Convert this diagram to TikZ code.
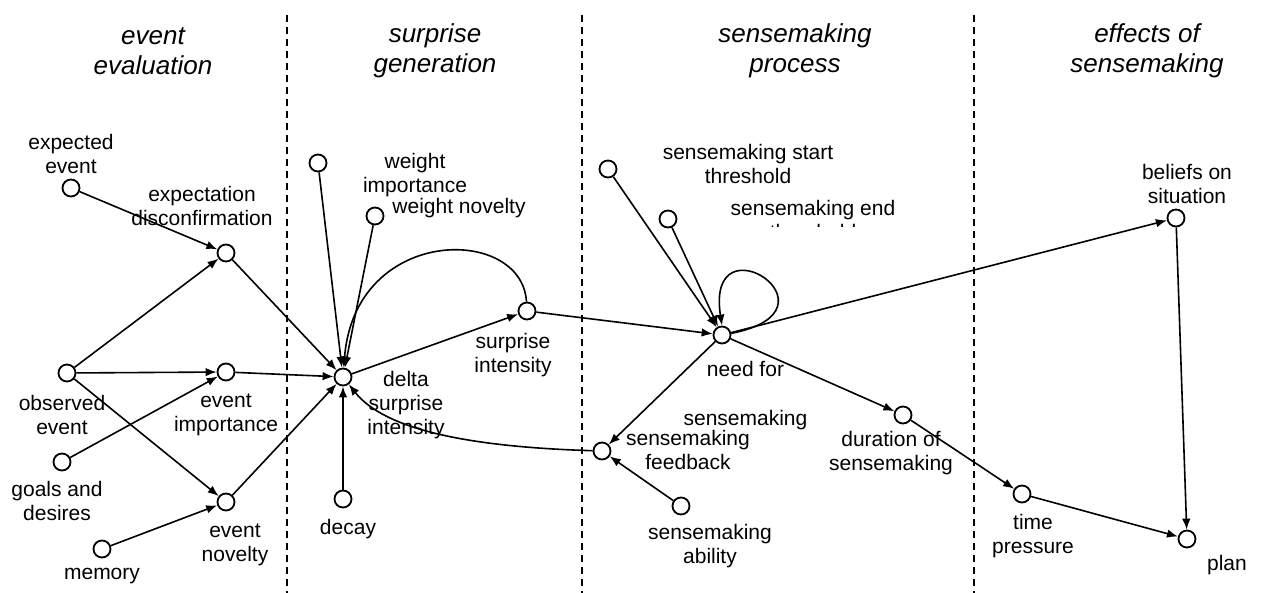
\documentclass[tikz,border=0pt]{standalone}
\usepackage{fontspec}
\setmainfont{Liberation Sans}
\usetikzlibrary{arrows.meta}
\begin{document}
\begin{tikzpicture}[x=1pt,y=-1pt,
  var/.style={circle, draw, line width=1.8pt, minimum size=17pt, inner sep=0pt},
  lab/.style={align=center, font=\fontsize{21}{24}\selectfont, inner sep=0pt},
  ttl/.style={align=center, font=\itshape\fontsize{26}{30}\selectfont, inner sep=0pt},
  arr/.style={-{Latex[length=11pt,width=8.5pt]}, line width=1.6pt},
  sep/.style={dash pattern=on 7pt off 5pt, line width=1.5pt}]
\useasboundingbox (0,0) rectangle (1264,593);

% separators
\draw[sep] (287,15) -- (287,593);
\draw[sep] (582,15) -- (582,593);
\draw[sep] (974,15) -- (974,593);

% titles
\node[ttl] (t1) at (153,51) {event\\evaluation};
\node[ttl] (t2) at (435,51) {surprise\\generation};
\node[ttl] (t3) at (795,51) {sensemaking\\process};
\node[ttl] (t4) at (1147,51) {effects of\\sensemaking};

% variables
\node[var] (ee) at (71,188) {};
\node[var] (ed) at (226,253) {};
\node[var] (oe) at (67,373) {};
\node[var] (ei) at (226,372) {};
\node[var] (gd) at (62,462) {};
\node[var] (en) at (226,502) {};
\node[var] (mem) at (102,549) {};
\node[var] (wi) at (318,163) {};
\node[var] (wn) at (375,216) {};
\node[var] (D) at (343,377) {};
\node[var] (dec) at (343,499) {};
\node[var] (si) at (527,311) {};
\node[var] (sst) at (608,169) {};
\node[var] (set) at (668,219) {};
\node[var] (N) at (722,335) {};
\node[var] (F) at (602,451) {};
\node[var] (abl) at (681,506) {};
\node[var] (dur) at (903,415) {};
\node[var] (tp) at (1022,494) {};
\node[var] (B) at (1176,218) {};
\node[var] (P) at (1187,539) {};

% labels
\node[lab] (lee) at (71,153.5) {expected\\event};
\node[lab] (led) at (202,206) {expectation\\disconfirmation};
\node[lab] (loe) at (62,414.5) {observed\\event};
\node[lab] (lei) at (226,415) {event\\importance};
\node[lab] (lgd) at (57,501) {goals and\\desires};
\node[lab] (len) at (235,545) {event\\novelty};
\node[lab] (lmem) at (102,576) {memory};
\node[lab] (lwi) at (415,175.5) {weight\\importance};
\node[lab] (lwn) at (459,208) {weight novelty};
\node[lab] (ldec) at (348,529) {decay};
\node[lab] (lD) at (406,405) {delta\\surprise\\intensity};
\node[lab] (lsi) at (513,355.5) {surprise\\intensity};
\node[lab] (lsst) at (748,164) {sensemaking start\\threshold};
\begin{scope}
\clip (715,190) rectangle (915,227);
\node[lab] (lset) at (813,220) {sensemaking end\\threshold};
\end{scope}
\node[lab] (lN) at (745.5,395.5) {need for\\[25pt]sensemaking};
\node[lab] (lF) at (688,450) {sensemaking\\feedback};
\node[lab] (labl) at (710,546) {sensemaking\\ability};
\node[lab] (ldur) at (891,453) {duration of\\sensemaking};
\node[lab] (ltp) at (1033,536) {time\\pressure};
\node[lab] (lB) at (1187,184) {beliefs on\\situation};
\node[lab] (lP) at (1227,565) {plan};

% connectors
\draw[arr] (ee) -- (ed);
\draw[arr] (oe) -- (ed);
\draw[arr] (oe) -- (ei);
\draw[arr] (oe) -- (en);
\draw[arr] (gd) -- (ei);
\draw[arr] (mem) -- (en);
\draw[arr] (ed) -- (D);
\draw[arr] (ei) -- (D);
\draw[arr] (en) -- (D);
\draw[arr] (wi) -- (D);
\draw[arr] (wn) -- (D);
\draw[arr] (dec) -- (D);
\draw[arr] (si) .. controls (522,225) and (355,225) .. (D);
\draw[arr] (D) -- (si);
\draw[arr] (F) .. controls (470,447) and (385,430) .. (D);
\draw[arr] (si) -- (N);
\draw[arr] (sst) -- (N);
\draw[arr] (set) -- (N);
\draw[arr] (N.10) .. controls (850,310) and (705,215) .. (N.north);
\draw[arr] (N) -- (B);
\draw[arr] (N) -- (dur);
\draw[arr] (N) -- (F);
\draw[arr] (abl) -- (F);
\draw[arr] (dur) -- (tp);
\draw[arr] (tp) -- (P);
\draw[arr] (B) -- (P);
\end{tikzpicture}
\end{document}
